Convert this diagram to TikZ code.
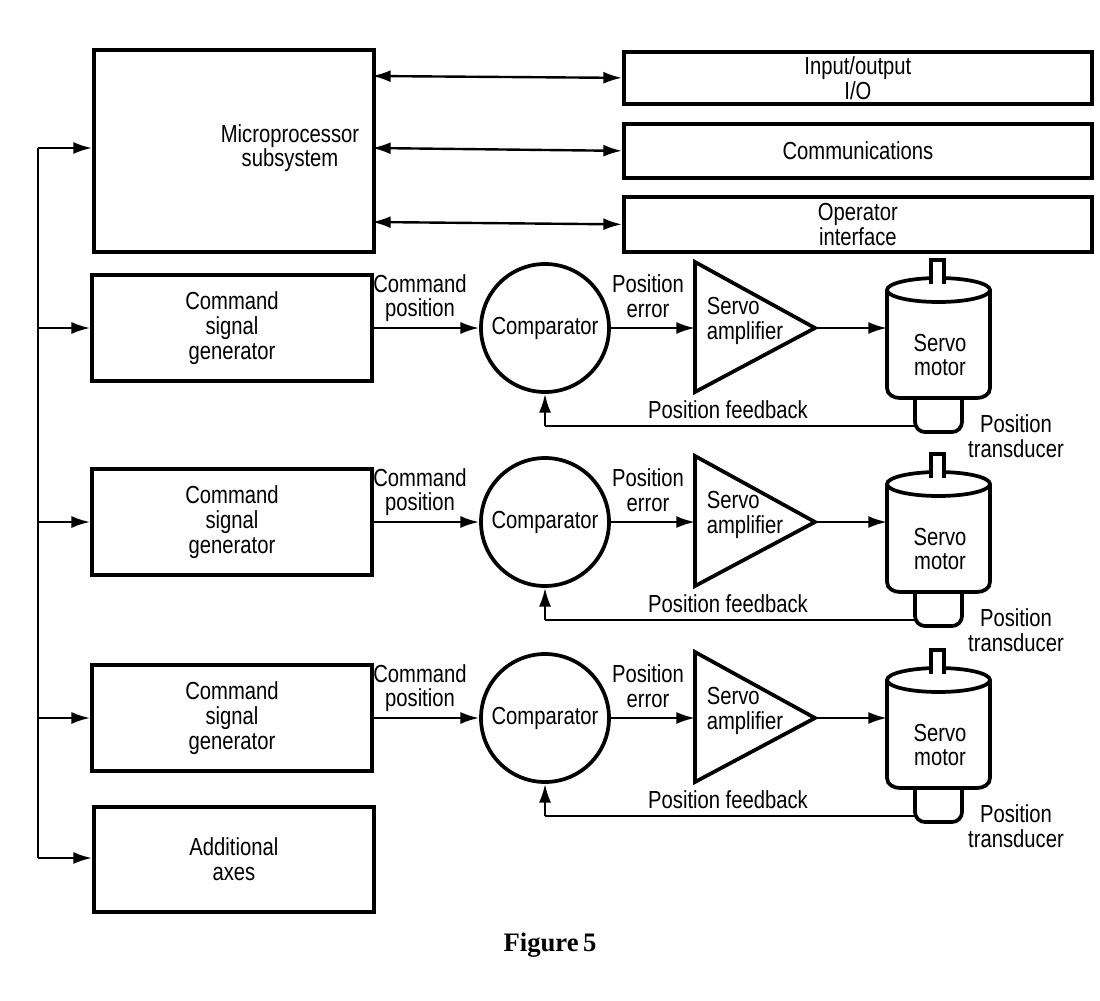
\documentclass[tikz,border=0pt]{standalone}
\usepackage{fontspec}
\usetikzlibrary{arrows.meta}
\setmainfont{Liberation Sans}[FakeStretch=0.82]
\newfontfamily\figfont{Liberation Serif}
\begin{document}
\begin{tikzpicture}[x=0.75pt,y=-0.75pt,
  box/.style={draw,line width=2.8pt},
  lbl/.style={font=\fontsize{18.5}{18.5}\selectfont,align=center,inner sep=0pt},
  arr/.style={-{Latex[length=14pt,width=9pt]},line width=1.8pt},
  darr/.style={{Latex[length=14pt,width=9pt]}-{Latex[length=14pt,width=9pt]},line width=1.8pt}]
\useasboundingbox (0,0) rectangle (1100,1000);
\node[box,minimum width=280*0.75pt,minimum height=202*0.75pt,anchor=north west] (mp) at (92,48) {};
\node[lbl] at (290,148) {Microprocessor\\subsystem};
\node[box,minimum width=468*0.75pt,minimum height=52*0.75pt,anchor=north west,lbl] (io) at (622,50) {Input/output\\I/O};
\node[box,minimum width=468*0.75pt,minimum height=54*0.75pt,anchor=north west,lbl] (com) at (622,122) {Communications};
\node[box,minimum width=468*0.75pt,minimum height=55*0.75pt,anchor=north west,lbl] (op) at (622,195) {Operator\\interface};
\draw[darr] (372,76) -- (io.west);
\draw[darr] (372,148) -- (com.west);
\draw[darr] (372,222) -- (op.west);
\node[box,minimum width=280*0.75pt,minimum height=105*0.75pt,anchor=north west,lbl] (add) at (92,805) {Additional\\axes};
\coordinate (bt) at (38,148);
\coordinate (bb) at (38,858);
\draw[line width=1.8pt] (bt) -- (bb);
\draw[arr] (bt) -- (mp.west|-bt);
\draw[arr] (bb) -- (add.west|-bb);
\foreach \i/\dy in {1/0,2/194,3/390}{
 \begin{scope}[yshift=-\dy*0.75pt]
  \node[box,minimum width=280*0.75pt,minimum height=106*0.75pt,lbl] (csg\i) at (232,328) {Command\\signal\\generator};
  \draw[arr] (38,328) -- (csg\i.west);
  \node[draw,circle,line width=2.8pt,minimum size=128*0.75pt,lbl] (cmp\i) at (545,328) {Comparator};
  \draw[arr] (csg\i.east) -- (cmp\i.west);
  \node[lbl] at (420,298) {Command\\position};
  \coordinate (ta\i) at (695,262); \coordinate (tb\i) at (695,392); \coordinate (tc\i) at (815,328);
  \draw[line width=2.8pt,line join=miter] (ta\i) -- (tc\i) -- (tb\i) -- cycle;
  \node[lbl,align=left] at (745,321) {Servo\\amplifier};
  \draw[arr] (cmp\i.east) -- (695,328);
  \node[lbl] at (648,296) {Position\\error};
  % motor
  \draw[line width=2.8pt] (887,290) -- (887,388) to[out=-90,in=180] (900,398) -- (977,398) to[out=0,in=-90] (990,388) -- (990,290);
  \draw[line width=2.8pt,fill=white] (938.5,290) ellipse [x radius=51.5,y radius=12];
  \draw[line width=2.4pt,fill=white] (931,284) -- (931,260) -- (944,260) -- (944,284);
  \draw[line width=2.8pt] (915,398) -- (915,422) to[out=-90,in=180] (925,432) -- (952,432) to[out=0,in=-90] (962,422) -- (962,398);
  \coordinate (mot\i) at (887,328);
  \coordinate (tr\i) at (915,426);
  \node[lbl] at (940,355) {Servo\\motor};
  \draw[arr] (tc\i) -- (mot\i);
  \draw[line width=1.8pt] (tr\i) -- (545,426);
  \draw[arr] (545,426) -- (cmp\i.south);
  \node[lbl] at (728,410) {Position feedback};
  \node[lbl] at (1016,436) {Position\\transducer};
 \end{scope}}
\node[font=\figfont\bfseries\fontsize{20}{22}\selectfont] at (550,945) {Figure\,5};
\end{tikzpicture}
\end{document}
